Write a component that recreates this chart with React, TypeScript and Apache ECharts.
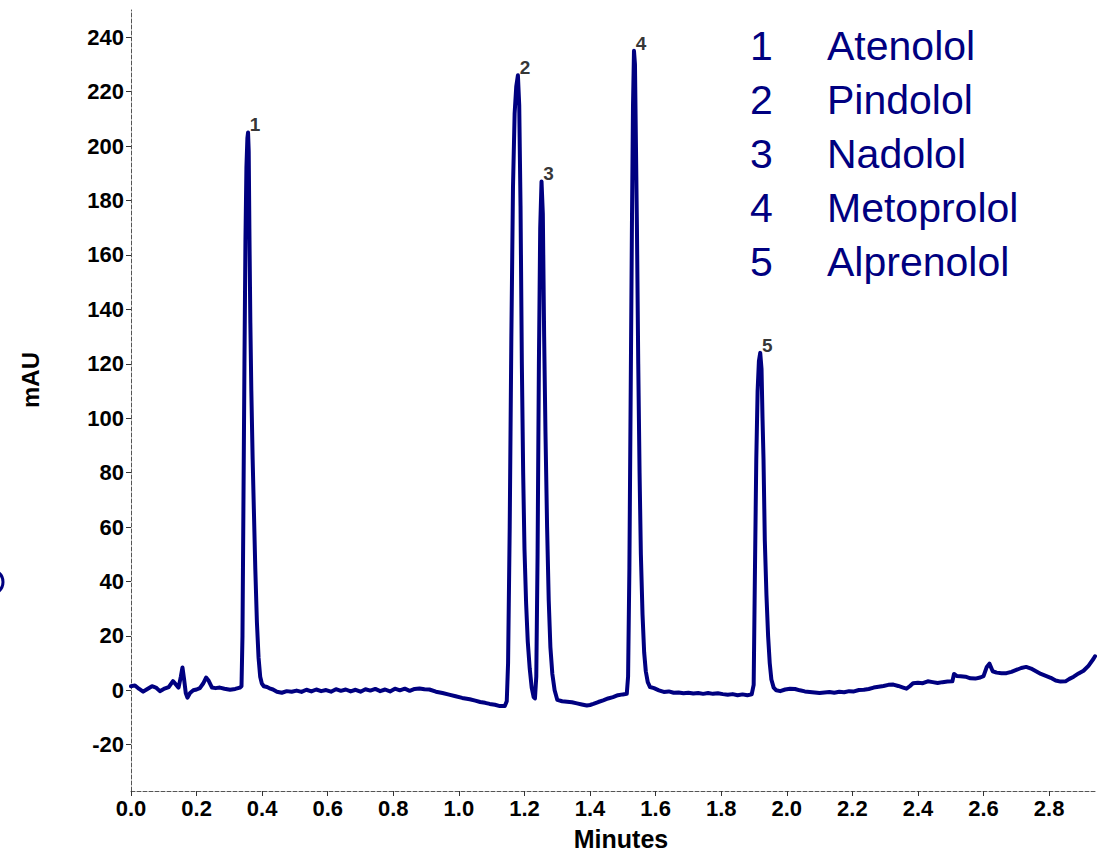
import React, { useEffect, useRef } from "react";
import * as echarts from "echarts";

// Chromatogram trace: retention time (minutes) and absorbance (mAU)
const times: number[] = [
  0.000, 0.012, 0.025, 0.037, 0.050, 0.064, 0.076, 0.088, 0.100, 0.115,
  0.128, 0.138, 0.145, 0.152, 0.157, 0.162, 0.167, 0.172, 0.180, 0.190,
  0.200, 0.210, 0.220, 0.229, 0.237, 0.247, 0.258, 0.271, 0.285, 0.302,
  0.318, 0.332, 0.337, 0.340, 0.343, 0.346, 0.349, 0.352, 0.355, 0.357,
  0.359, 0.361, 0.364, 0.367, 0.371, 0.375, 0.379, 0.384, 0.389, 0.394,
  0.399, 0.405, 0.415, 0.425, 0.433, 0.445, 0.460, 0.475, 0.490, 0.505,
  0.520, 0.535, 0.550, 0.565, 0.580, 0.595, 0.610, 0.625, 0.640, 0.655,
  0.670, 0.685, 0.700, 0.715, 0.730, 0.745, 0.760, 0.775, 0.790, 0.805,
  0.820, 0.835, 0.850, 0.865, 0.880, 0.895, 0.910, 0.930, 0.950, 0.970,
  0.990, 1.010, 1.033, 1.050, 1.065, 1.080, 1.094, 1.110, 1.125, 1.140,
  1.146, 1.150, 1.155, 1.160, 1.165, 1.170, 1.175, 1.180, 1.184, 1.188,
  1.192, 1.196, 1.200, 1.205, 1.210, 1.216, 1.222, 1.228, 1.232, 1.236,
  1.240, 1.244, 1.248, 1.252, 1.256, 1.260, 1.264, 1.269, 1.274, 1.279,
  1.285, 1.292, 1.300, 1.315, 1.330, 1.345, 1.360, 1.375, 1.390, 1.400,
  1.410, 1.425, 1.440, 1.455, 1.470, 1.485, 1.500, 1.512, 1.516, 1.520,
  1.524, 1.528, 1.531, 1.534, 1.537, 1.540, 1.543, 1.547, 1.551, 1.555,
  1.560, 1.565, 1.570, 1.576, 1.583, 1.595, 1.610, 1.625, 1.640, 1.655,
  1.670, 1.685, 1.700, 1.715, 1.730, 1.745, 1.760, 1.775, 1.790, 1.805,
  1.820, 1.835, 1.850, 1.865, 1.880, 1.893, 1.899, 1.903, 1.907, 1.911,
  1.915, 1.919, 1.923, 1.926, 1.929, 1.933, 1.938, 1.943, 1.948, 1.953,
  1.960, 1.968, 1.980, 1.995, 2.010, 2.025, 2.040, 2.055, 2.070, 2.085,
  2.100, 2.115, 2.130, 2.145, 2.160, 2.175, 2.190, 2.205, 2.220, 2.235,
  2.250, 2.265, 2.280, 2.295, 2.310, 2.325, 2.340, 2.355, 2.365, 2.375,
  2.385, 2.400, 2.415, 2.430, 2.445, 2.460, 2.475, 2.490, 2.505, 2.510,
  2.518, 2.530, 2.545, 2.560, 2.575, 2.590, 2.600, 2.610, 2.618, 2.628,
  2.640, 2.655, 2.670, 2.685, 2.700, 2.715, 2.730, 2.745, 2.760, 2.775,
  2.790, 2.805, 2.820, 2.835, 2.850, 2.862, 2.875, 2.890, 2.905, 2.920,
  2.935, 2.940,
];

const absorbance: number[] = [
  1.5, 1.8, 0.5, -0.5, 0.5, 1.5, 1.0, -0.3, 0.5, 1.2,
  3.4, 2.0, 1.0, 5.0, 8.4, 4.0, -1.0, -2.7, -1.0, 0.0,
  0.3, 0.8, 2.5, 4.7, 3.5, 1.0, 0.8, 1.0, 0.6, 0.2,
  0.5, 1.0, 1.5, 20, 70, 120, 165, 192, 203, 205,
  198, 170, 135, 110, 85, 65, 45, 25, 12, 5,
  2.5, 1.5, 1.2, 0.6, 0.3, -0.5, -0.9, -0.3, -0.5, -0.1,
  -0.6, 0.2, -0.4, 0.3, -0.3, 0.1, -0.5, 0.4, -0.2, 0.3,
  -0.4, 0.2, -0.5, 0.4, -0.1, 0.5, -0.3, 0.3, -0.4, 0.6,
  0.0, 0.6, -0.2, 0.5, 0.7, 0.4, 0.3, -0.5, -1.0, -1.6,
  -2.2, -2.8, -3.3, -3.8, -4.3, -4.6, -5.0, -5.3, -5.8, -5.8,
  -4.0, 10, 60, 130, 185, 212, 222, 226, 215, 178,
  120, 80, 52, 32, 18, 8, 1, -2.5, -3, 5,
  50, 120, 170, 187, 175, 130, 95, 60, 33, 16,
  6, 0, -3.5, -4.0, -4.2, -4.4, -4.8, -5.2, -5.6, -5.4,
  -5.0, -4.3, -3.7, -3.0, -2.5, -1.8, -1.5, -1.3, 5, 45,
  110, 175, 215, 235, 230, 200, 170, 120, 80, 50,
  28, 14, 7, 3, 1.2, 0.8, 0.0, -0.6, -0.4, -0.9,
  -0.8, -1.1, -0.9, -1.2, -1.0, -1.3, -1.0, -1.3, -1.1, -1.4,
  -1.6, -1.4, -1.8, -1.5, -1.8, -1.5, 2, 45, 85, 110,
  121, 124, 118, 100, 85, 55, 35, 20, 10, 4,
  1, 0, -0.3, 0.3, 0.6, 0.5, 0.0, -0.4, -0.6, -0.8,
  -1.0, -0.8, -0.6, -0.9, -0.5, -0.7, -0.3, -0.4, 0.1, 0.2,
  0.5, 1.0, 1.3, 1.6, 2.0, 2.1, 1.6, 1.0, 0.6, 1.5,
  2.6, 2.8, 2.6, 3.3, 3.0, 2.7, 3.0, 3.2, 3.3, 6.0,
  5.3, 5.2, 5.0, 4.4, 4.3, 4.7, 5.2, 8.6, 9.8, 7.0,
  6.5, 6.3, 6.3, 6.8, 7.5, 8.2, 8.6, 8.0, 7.0, 6.0,
  5.3, 4.6, 3.6, 3.2, 3.3, 4.2, 5.0, 6.2, 7.2, 9.0,
  11.5, 12.5,
];

// Peak apex annotations
const peakLabels: string[] = ["1", "2", "3", "4", "5"];
const peakTimes: number[] = [0.357, 1.180, 1.252, 1.534, 1.919];
const peakHeights: number[] = [205, 226, 187, 235, 124];

// Legend (peak identification)
const compoundNumbers: string[] = ["1", "2", "3", "4", "5"];
const compoundNames: string[] = ["Atenolol", "Pindolol", "Nadolol", "Metoprolol", "Alprenolol"];

// Axis ticks and titles
const xTicks: number[] = [0, 0.2, 0.4, 0.6, 0.8, 1.0, 1.2, 1.4, 1.6, 1.8, 2.0, 2.2, 2.4, 2.6, 2.8];
const yTicks: number[] = [-20, 0, 20, 40, 60, 80, 100, 120, 140, 160, 180, 200, 220, 240];
const xTitle = "Minutes";
const yTitle = "mAU";

const NAVY = "#000080";
const FONT = "'Liberation Sans', Arial, Helvetica, sans-serif";

export default function App() {
  const ref = useRef<HTMLDivElement>(null);

  useEffect(() => {
    document.body.style.margin = "0";
    if (!ref.current) return;
    const chart = echarts.init(ref.current, undefined, { renderer: "svg" });

    const trace = times.map((t, i) => [t, absorbance[i]]);
    const peaks = peakTimes.map((t, i) => ({ value: [t, peakHeights[i]], name: peakLabels[i] }));

    const legendGraphics: any[] = [];
    compoundNumbers.forEach((n, i) => {
      legendGraphics.push({
        type: "text",
        x: 750,
        y: 46 + i * 54,
        style: { text: n, font: `41px ${FONT}`, fill: NAVY, textVerticalAlign: "middle" },
      });
      legendGraphics.push({
        type: "text",
        x: 827,
        y: 46 + i * 54,
        style: { text: compoundNames[i], font: `41px ${FONT}`, fill: NAVY, textVerticalAlign: "middle" },
      });
    });

    chart.setOption({
      animation: false,
      backgroundColor: "#ffffff",
      grid: { left: 131, right: 5, top: 10, bottom: 61, containLabel: false },
      xAxis: {
        type: "value",
        min: 0,
        max: 2.94,
        axisLine: { show: true, onZero: false, lineStyle: { color: "#555", width: 1, type: "dashed" } },
        axisTick: { show: true, customValues: xTicks, length: 5, lineStyle: { color: "#333" } },
        axisLabel: {
          customValues: xTicks,
          formatter: (v: number) => v.toFixed(1),
          fontFamily: FONT,
          fontWeight: "bold",
          fontSize: 22,
          color: "#000",
          margin: 6,
        },
        splitLine: { show: false },
      },
      yAxis: {
        type: "value",
        min: -37,
        max: 250,
        axisLine: { show: true, onZero: false, lineStyle: { color: "#555", width: 1, type: "dashed" } },
        axisTick: { show: true, customValues: yTicks, length: 5, lineStyle: { color: "#333" } },
        axisLabel: {
          customValues: yTicks,
          fontFamily: FONT,
          fontWeight: "bold",
          fontSize: 22,
          color: "#000",
          margin: 7,
        },
        splitLine: { show: false },
      },
      series: [
        {
          type: "line",
          data: trace,
          showSymbol: false,
          symbol: "none",
          smooth: false,
          lineStyle: { color: NAVY, width: 4, join: "round", cap: "round" },
          z: 2,
        },
        {
          type: "scatter",
          data: peaks,
          symbolSize: 0,
          silent: true,
          label: {
            show: true,
            position: "top",
            distance: 0,
            offset: [7, 2],
            formatter: (p: any) => p.name,
            fontFamily: FONT,
            fontWeight: "bold",
            fontSize: 19,
            color: "#000",
          },
          z: 3,
        },
      ],
      graphic: [
        ...legendGraphics,
        {
          type: "text",
          x: 621,
          y: 839,
          style: {
            text: xTitle,
            font: `bold 25px ${FONT}`,
            fill: "#000",
            textAlign: "center",
            textVerticalAlign: "middle",
          },
        },
        {
          type: "text",
          x: 30,
          y: 380,
          rotation: Math.PI / 2,
          style: {
            text: yTitle,
            font: `bold 24px ${FONT}`,
            fill: "#000",
            textAlign: "center",
            textVerticalAlign: "middle",
          },
        },
        {
          type: "arc",
          shape: { cx: -9, cy: 582, r: 12, startAngle: -Math.PI / 3, endAngle: Math.PI / 3 },
          style: { stroke: NAVY, lineWidth: 3, fill: "none" },
        },
      ],
    });

    return () => chart.dispose();
  }, []);

  return <div ref={ref} style={{ width: 1100, height: 852 }} />;
}
